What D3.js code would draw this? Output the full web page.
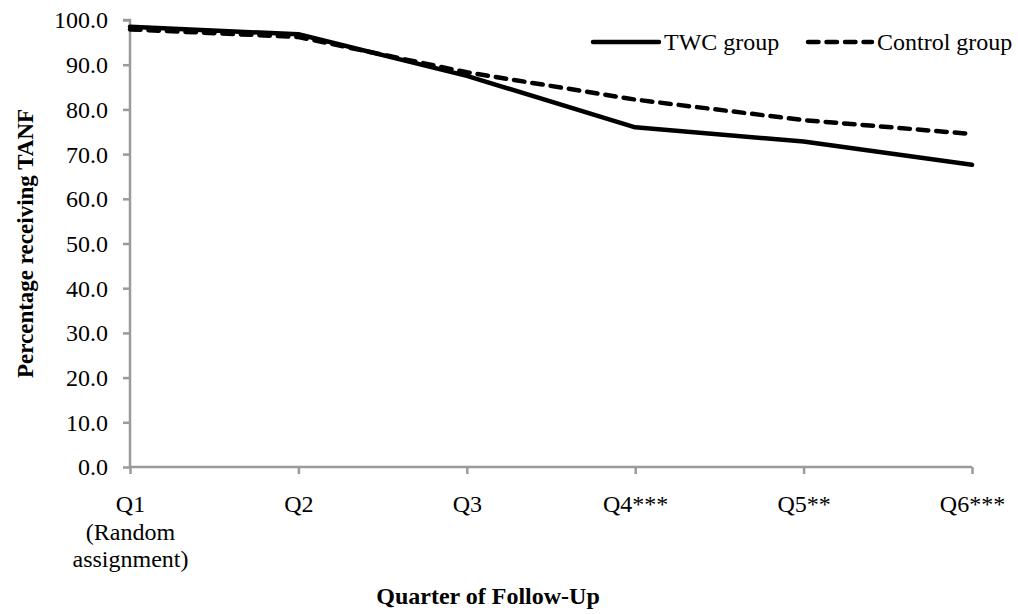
<!DOCTYPE html>
<html>
<head>
<meta charset="utf-8">
<script src="https://cdn.jsdelivr.net/npm/d3@7"></script>
<style>
  html, body { margin: 0; padding: 0; background: #fff; }
  svg { display: block; }
  text { font-family: "Liberation Serif", "Times New Roman", serif; fill: #000; }
</style>
</head>
<body>
<svg id="chart" width="1018" height="614"></svg>
<script>
const categories = ["Q1|(Random|assignment)", "Q2", "Q3", "Q4***", "Q5**", "Q6***"];
const twcValues = [98.5, 96.8, 87.5, 76.0, 72.8, 67.6];
const controlValues = [97.9, 96.2, 88.3, 82.2, 77.6, 74.5];
const yTicks = [0, 10, 20, 30, 40, 50, 60, 70, 80, 90, 100];
const seriesNames = ["TWC group", "Control group"];

(function () {
const svg = d3.select("#chart");
const pLeft = 130, pRight = 972, pTop = 20, pBottom = 467;
const axisColor = "#9a9a9a";

const x = d3.scalePoint().domain(categories).range([pLeft, pRight]);
const y = d3.scaleLinear().domain([0, 100]).range([pBottom, pTop]);

// Y axis
const yAxis = d3.axisLeft(y).tickValues(yTicks).tickSize(7).tickPadding(15)
  .tickFormat(d3.format(".1f"));
const gy = svg.append("g").attr("transform", `translate(${pLeft},0)`).call(yAxis);
gy.select(".domain").attr("stroke", axisColor).attr("stroke-width", 2.5)
  .attr("d", `M${-7},${pTop}H0V${pBottom}`);
gy.selectAll(".tick line").attr("stroke", axisColor).attr("stroke-width", 2.5);
gy.selectAll(".tick text").style("font-size", "24px").style("font-family", "Liberation Serif")
  .attr("fill", "#000").attr("dy", "0.33em");

// X axis
const xAxis = d3.axisBottom(x).tickSize(7).tickFormat("");
const gx = svg.append("g").attr("transform", `translate(0,${pBottom})`).call(xAxis);
gx.select(".domain").attr("stroke", axisColor).attr("stroke-width", 2.5)
  .attr("d", `M${pLeft},0H${pRight}`);
gx.selectAll(".tick line").attr("stroke", axisColor).attr("stroke-width", 2.5);
gx.selectAll(".tick").each(function(d) {
  const lines = d.split("|");
  const t = d3.select(this).append("text")
    .attr("text-anchor", "middle")
    .style("font-size", "24px");
  lines.forEach((ln, i) => {
    t.append("tspan").attr("x", 0).attr("y", 45 + i * 27.5).text(ln);
  });
});

// Lines
const line = d3.line().x((d, i) => x(categories[i])).y(d => y(d));
svg.append("path").datum(twcValues)
  .attr("fill", "none").attr("stroke", "#000").attr("stroke-width", 4.5)
  .attr("stroke-linejoin", "round").attr("stroke-linecap", "round")
  .attr("d", line);
svg.append("path").datum(controlValues)
  .attr("fill", "none").attr("stroke", "#000").attr("stroke-width", 4.5)
  .attr("stroke-dasharray", "10.5,8").attr("stroke-linecap", "round")
  .attr("stroke-linejoin", "round")
  .attr("d", line);

// Legend
const legY = 42;
const leg = svg.append("g");
leg.append("line").attr("x1", 593).attr("x2", 659).attr("y1", legY).attr("y2", legY)
  .attr("stroke", "#000").attr("stroke-width", 4.5).attr("stroke-linecap", "round");
leg.append("text").attr("x", 664).attr("y", legY).attr("dy", "0.33em")
  .style("font-size", "24px").text(seriesNames[0]);
leg.append("line").attr("x1", 808).attr("x2", 872).attr("y1", legY).attr("y2", legY)
  .attr("stroke", "#000").attr("stroke-width", 4.5).attr("stroke-linecap", "round")
  .attr("stroke-dasharray", "10.5,8");
leg.append("text").attr("x", 877).attr("y", legY).attr("dy", "0.33em")
  .style("font-size", "24px").text(seriesNames[1]);

// Axis titles
svg.append("text").attr("x", 488).attr("y", 604).attr("text-anchor", "middle")
  .style("font-size", "24px").style("font-weight", "bold").text("Quarter of Follow-Up");
svg.append("text").attr("transform", `translate(33,${(pTop + pBottom) / 2}) rotate(-90)`)
  .attr("text-anchor", "middle")
  .style("font-size", "23px").style("font-weight", "bold").text("Percentage receiving TANF");
})();
</script>
</body>
</html>
